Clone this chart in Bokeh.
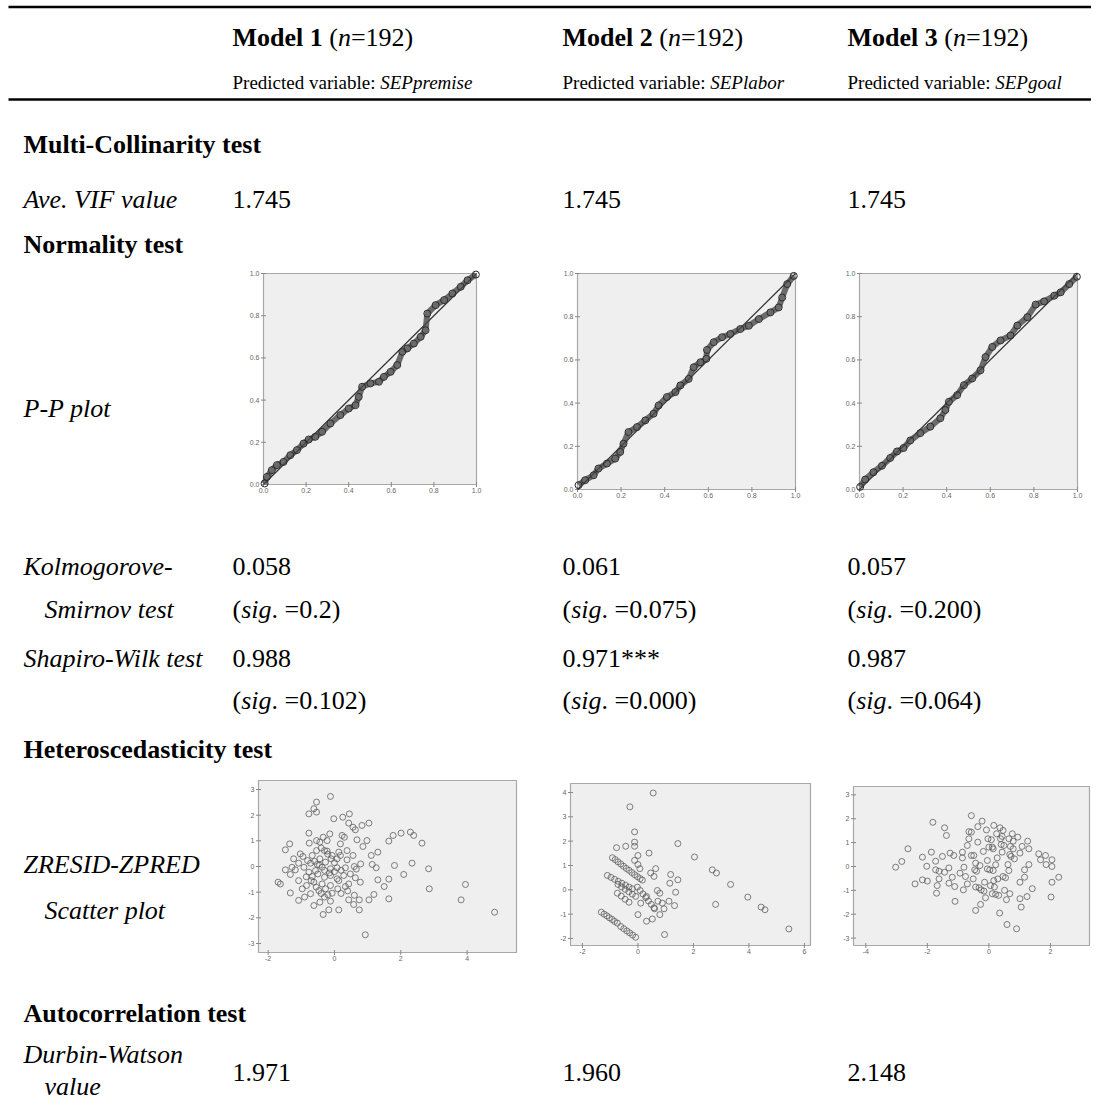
from bokeh.plotting import figure
from bokeh.models import Range1d
from bokeh.embed import file_html
from bokeh.resources import INLINE
from bokeh.core.properties import value
import math

# ---------------- data ----------------
models = ["Model 1", "Model 2", "Model 3"]
n_obs = [192, 192, 192]
predicted = ["SEPpremise", "SEPlabor", "SEPgoal"]
vif_values = ["1.745", "1.745", "1.745"]
ks_stat = ["0.058", "0.061", "0.057"]
ks_sig = ["0.2", "0.075", "0.200"]
sw_stat = ["0.988", "0.971***", "0.987"]
sw_sig = ["0.102", "0.000", "0.064"]
dw_values = ["1.971", "1.960", "2.148"]

pp_ticks = [0.0, 0.2, 0.4, 0.6, 0.8, 1.0]

pp1_x = [0.005, 0.016, 0.039, 0.063, 0.094, 0.126, 0.157, 0.188, 0.212, 0.243, 0.275, 0.314, 0.361, 0.400,
         0.432, 0.447, 0.463, 0.502, 0.542, 0.565, 0.597, 0.628, 0.652, 0.675, 0.706, 0.738, 0.761, 0.769,
         0.808, 0.848, 0.887, 0.926, 0.958, 0.997]
pp1_y = [0.005, 0.036, 0.068, 0.092, 0.107, 0.139, 0.163, 0.194, 0.213, 0.226, 0.250, 0.289, 0.329, 0.360,
         0.376, 0.415, 0.463, 0.479, 0.487, 0.510, 0.534, 0.566, 0.629, 0.645, 0.668, 0.700, 0.731, 0.810,
         0.850, 0.874, 0.905, 0.937, 0.968, 0.995]

pp2_x = [0.005, 0.035, 0.074, 0.096, 0.135, 0.173, 0.196, 0.211, 0.234, 0.273, 0.311, 0.349, 0.372, 0.410,
         0.449, 0.472, 0.510, 0.533, 0.564, 0.591, 0.594, 0.625, 0.663, 0.701, 0.747, 0.786, 0.832, 0.885,
         0.923, 0.939, 0.962, 0.992]
pp2_y = [0.020, 0.043, 0.066, 0.097, 0.120, 0.143, 0.174, 0.212, 0.266, 0.289, 0.320, 0.351, 0.389, 0.428,
         0.451, 0.482, 0.512, 0.566, 0.589, 0.605, 0.646, 0.682, 0.705, 0.720, 0.743, 0.758, 0.789, 0.820,
         0.843, 0.889, 0.951, 0.989]

pp3_x = [0.003, 0.026, 0.064, 0.103, 0.141, 0.172, 0.202, 0.233, 0.279, 0.325, 0.371, 0.394, 0.410, 0.448,
         0.479, 0.517, 0.555, 0.578, 0.609, 0.647, 0.693, 0.724, 0.770, 0.808, 0.847, 0.893, 0.923, 0.962,
         0.997]
pp3_y = [0.012, 0.046, 0.080, 0.110, 0.146, 0.176, 0.192, 0.227, 0.261, 0.291, 0.330, 0.368, 0.406, 0.437,
         0.483, 0.514, 0.552, 0.613, 0.660, 0.690, 0.713, 0.759, 0.798, 0.856, 0.871, 0.897, 0.913, 0.951,
         0.985]

# ZRESID (y) vs ZPRED (x)
s1_x = [-0.12, -0.54, -0.62, -0.54, -0.77, -0.02, 0.25, 0.45, 0.43, 0.56, 0.63, 0.83, 1.04,
        -0.77, -0.34, -0.14, 0.23, 0.30, -0.22, -0.54, -0.76, -0.44, 0.18, 0.68, 0.98, 0.86, 1.64, 1.77, 2.01, 2.29, 2.39, 2.64,
        -1.48, -1.35, -0.54, -0.67, -0.22, 0.13, 0.38, 0.56, 0.18, -0.07, -0.44, -0.27, -1.03, -0.95, -1.23, -1.08, -0.81, -0.72,
        -0.52, 0.08, 0.38, 1.11, 1.31, 0.79, 1.14,
        -1.48, -1.28, -1.18, -0.92, -1.33, -0.57, -0.37, -0.12, 0.08, 0.33, 0.60, 0.66, 1.26, 1.81, 2.34, 2.84,
        -0.77, -0.67, -0.50, -0.30, -0.12, 0.08, 0.28, 0.48, 0.63, 0.78, 1.31, 1.64, 2.09, -1.08, -0.84, -0.62, -0.37, -0.12, 0.13, 0.43,
        -1.70, -1.63, -1.33, -0.97, -0.72, -0.47, -0.27, -0.07, 0.10, 0.33, 0.60, 1.19, 1.50, 2.86, 3.95,
        -1.08, -0.90, -0.62, -0.44, -0.30, -0.12, 0.43, 0.58, 0.75, 1.04, 1.64, -0.34, -0.17, 0.13, 0.75, 3.82, 4.83, 0.93,
        -0.40, -0.30, -0.20, -0.10, 0.00, -0.60, -0.45, -0.30, -0.15, 0.00, 0.20, -0.85, -0.70, -0.55, -0.40, -0.20, 0.20, 0.40]
s1_y = [2.73, 2.51, 2.25, 2.12, 2.05, 1.86, 1.92, 2.05, 1.69, 1.53, 1.43, 1.60, 1.69,
        1.30, 1.14, 1.27, 1.21, 1.14, 1.01, 1.01, 0.91, 0.95, 0.88, 1.04, 1.01, 0.78, 0.99, 1.21, 1.30, 1.34, 1.21, 0.91,
        0.65, 0.88, 0.62, 0.43, 0.60, 0.56, 0.62, 0.43, 0.43, 0.43, 0.30, 0.17, 0.49, 0.39, 0.30, 0.13, 0.23, 0.13,
        0.08, 0.30, 0.26, 0.43, 0.56, 0.10, 0.08,
        -0.13, -0.03, -0.13, -0.03, -0.31, -0.16, -0.03, -0.09, -0.05, -0.05, 0.00, -0.10, -0.05, 0.04, 0.13, -0.09,
        -0.22, -0.39, -0.29, -0.42, -0.35, -0.48, -0.35, -0.29, -0.44, -0.61, -0.52, -0.49, -0.31, -0.55, -0.74, -0.61, -0.68, -0.74, -0.55, -0.68,
        -0.61, -0.68, -1.03, -0.87, -1.06, -0.94, -0.87, -1.04, -0.87, -0.78, -1.12, -1.09, -0.78, -0.87, -0.70,
        -1.32, -1.19, -1.52, -1.39, -1.19, -1.35, -1.30, -1.48, -1.30, -1.30, -1.26, -1.87, -1.69, -1.69, -1.69, -1.30, -1.78, -2.66,
        0.72, 0.62, 0.48, 0.30, 0.15, 0.20, 0.05, -0.15, -0.25, -0.20, -0.15, -0.40, -0.55, -0.80, -1.05, -1.10, -1.05, -0.95]

s2_x = [0.55, -0.29, -0.12, -0.12, -0.12, -0.44, -0.77, 1.44, 0.40, 0.00, -0.12, 0.00, 0.07, 0.64, 0.46, 0.58, 1.18, 1.44,
        1.15, 2.04, 2.68, 2.83, 3.34, 3.96, 4.44, 4.58, 5.44, 2.80,
        0.70, 0.79, 0.31, 0.72, 0.88, 1.12, 1.36, 1.32, 0.94, 0.60, 0.79, 0.00, 0.31, 0.52, 0.96, 0.10,
        -0.92, -0.82, -0.72, -0.62, -0.52, -0.42, -0.32, -0.22, -0.12, -0.02, 0.08, 0.16,
        -1.10, -0.97, -0.84, -0.71, -0.58, -0.45, -0.32, -0.20,
        -0.72, -0.59, -0.46, -0.33, -0.20, -0.08,
        -0.74, -0.60, -0.46, -0.32,
        -0.02, 0.08, 0.18, 0.28, 0.38, 0.48, 0.58,
        -1.32, -1.22, -1.12, -1.03, -0.93, -0.84, -0.74,
        -0.62, -0.51, -0.40, -0.30, -0.19, -0.08]
s2_y = [3.98, 3.41, 2.38, 1.96, 1.79, 1.79, 1.73, 1.90, 1.51, 1.41, 1.21, 1.04, 0.87, 0.87, 0.69, 0.55, 0.63, 0.41,
        0.27, 1.35, 0.82, 0.69, 0.22, -0.30, -0.71, -0.82, -1.61, -0.60,
        -0.03, -0.14, -0.27, -0.47, -0.55, -0.47, -0.10, -0.65, -0.78, -0.78, -1.02, -1.02, -1.29, -1.20, -1.84, -0.55,
        1.32, 1.24, 1.15, 1.06, 0.97, 0.88, 0.80, 0.71, 0.62, 0.54, 0.46, 0.40,
        0.59, 0.51, 0.43, 0.35, 0.27, 0.19, 0.11, 0.04,
        0.22, 0.12, 0.02, -0.08, -0.18, -0.27,
        -0.14, -0.26, -0.39, -0.51,
        0.11, -0.03, -0.17, -0.32, -0.46, -0.60, -0.74,
        -0.92, -1.00, -1.07, -1.15, -1.22, -1.30, -1.37,
        -1.51, -1.60, -1.69, -1.77, -1.86, -1.95]

s3_x = [-3.03, -2.83, -2.63, -2.40, -2.16, -2.16, -2.02, -2.00, -1.87, -1.82, -1.73, -1.73, -1.68, -1.70, -1.62, -1.62,
        -1.51, -1.44, -1.38, -1.44, -1.30, -1.30, -1.26, -1.19, -1.14, -1.11, -1.10, -0.94, -0.86, -0.86, -0.83, -0.81,
        -0.76, -0.70, -0.70, -0.65, -0.65, -0.57, -0.57, -0.57, -0.51, -0.49, -0.46, -0.43, -0.43, -0.36, -0.36, -0.40,
        -0.43, -0.32, -0.29, -0.27, -0.25, -0.22, -0.18, -0.16, -0.14, -0.11, -0.08, -0.05, -0.05, -0.03, 0.00, 0.03,
        0.05, 0.08, 0.11, 0.11, 0.14, 0.14, 0.16, 0.18, 0.22, 0.16, 0.22, 0.25, 0.27, 0.29, 0.32, 0.35, 0.36, 0.38,
        0.40, 0.43, 0.43, 0.46, 0.46, 0.49, 0.51, 0.54, 0.57, 0.59, 0.62, 0.65, 0.65, 0.68, 0.68, 0.72, 0.70, 0.76,
        0.79, 0.79, 0.83, 0.90, 0.94, 1.01, 1.01, 1.01, 1.05, 1.08, 1.16, 1.16, 1.24, 1.26, 1.30, 1.30, 1.41, 1.62,
        1.68, 1.84, 1.86, 2.05, 2.05, 2.05, 2.02, 2.27]
s3_y = [-0.03, 0.21, 0.74, -0.73, 0.39, -0.56, 0.01, -0.61, 0.60, 1.85, 0.22, -0.14, -0.80, -1.12, -0.20, -0.52,
        0.42, 1.62, 1.30, -0.24, -0.06, -0.70, 0.56, -0.45, 0.46, -0.84, -1.46, -0.28, 0.36, 0.60, -0.98, -0.03,
        -0.42, 0.88, -0.73, 1.16, 1.46, 1.44, 0.46, 2.13, -0.52, 0.46, -0.14, -1.84, -0.86, 1.67, 1.02, -0.20,
        0.14, -0.89, 0.04, -1.59, -0.98, 1.90, 0.63, -1.03, -0.66, -1.31, 1.53, -0.10, 0.25, 1.16, 0.81, -0.14,
        -0.80, 1.12, 0.81, -1.14, -0.17, 0.74, -0.59, -0.86, -1.17, 1.72, 0.07, 1.37, 0.36, -0.52, -1.21, -1.95, 1.62, 1.16,
        0.92, 1.26, 0.60, 1.51, -0.42, 0.88, -1.00, -0.47, -1.39, -2.43, 0.08, 1.16, -0.17, -1.14, 0.50, 0.42, 0.84, 1.37,
        1.06, 0.74, 0.32, -2.61, 1.23, 0.56, -0.66, -1.35, -1.70, 0.84, -0.14, -0.45, -1.26, 1.06, 0.74, 0.08, -0.93, 0.53,
        0.28, 0.46, 0.08, 0.28, 0.00, -0.66, -1.28, -0.45]

s1_xticks = [-2, 0, 2, 4]
s1_yticks = [-3, -2, -1, 0, 1, 2, 3]
s2_xticks = [-2, 0, 2, 4, 6]
s2_yticks = [-2, -1, 0, 1, 2, 3, 4]
s3_xticks = [-4, -2, 0, 2]
s3_yticks = [-3, -2, -1, 0, 1, 2, 3]

# ---------------- figure ----------------
W, H = 1091, 1103
OX, OY = 0, 0
FONT = "Liberation Serif"
SANS = "Liberation Sans"

p = figure(width=W, height=H, output_backend="svg", toolbar_location=None,
           x_range=Range1d(OX, OX + W), y_range=Range1d(OY + H, OY),
           x_axis_location=None, y_axis_location=None, min_border=0)
p.grid.visible = False
p.outline_line_color = None
p.background_fill_color = "white"
p.border_fill_color = "white"

REG = {'(': 333, ')': 333, '=': 564, '.': 250, ' ': 250, '*': 500, 'P': 556, 'r': 333, 'e': 444, 'd': 500,
       'i': 278, 'c': 444, 't': 278, 'v': 500, 'a': 444, 'b': 500, 'l': 278, ':': 278}
ITA = {'n': 500, 's': 389, 'i': 278, 'g': 500, '.': 250}
BLD = {'M': 944, 'o': 500, 'd': 556, 'e': 444, 'l': 278, ' ': 250}


def tw(s, style, size):
    tab = {"normal": REG, "italic": ITA, "bold": BLD}[style]
    return sum(tab.get(c, 500) for c in s) / 1000.0 * size


def txt(x, y, s, size=26, style="normal", align="left", font=FONT, color="black", baseline="alphabetic"):
    p.text(x=[x], y=[y], text=[s], text_font=value(font), text_font_size=f"{size}px",
           text_font_style=style, text_align=align, text_baseline=baseline, text_color=color)


def segs(x, y, parts, size=26):
    for s, st in parts:
        txt(x, y, s, size=size, style=st)
        x += tw(s, st, size)


# rules
p.segment(x0=[8, 8], x1=[OX + W, OX + W], y0=[6.5, 99], y1=[6.5, 99], line_color="black", line_width=2.5)

col_x = [232, 562, 847]
for i, cx in enumerate(col_x):
    segs(cx, 37, [(models[i] + " ", "bold"), ("(", "normal"), ("n", "italic"), ("=%d)" % n_obs[i], "normal")])
    segs(cx, 82, [("Predicted variable: ", "normal"), (predicted[i], "italic")], size=19)
    txt(cx, 199, vif_values[i])
    txt(cx, 566, ks_stat[i])
    segs(cx, 609, [("(", "normal"), ("sig", "italic"), (". =" + ks_sig[i] + ")", "normal")])
    txt(cx, 658, sw_stat[i])
    segs(cx, 700, [("(", "normal"), ("sig", "italic"), (". =" + sw_sig[i] + ")", "normal")])
    txt(cx, 1072, dw_values[i])

LX, LX2 = 23, 44
txt(LX, 144, "Multi-Collinarity test", style="bold")
txt(LX, 199, "Ave. VIF value", style="italic")
txt(LX, 244, "Normality test", style="bold")
txt(LX, 408, "P-P plot", style="italic")
txt(LX, 566, "Kolmogorove-", style="italic")
txt(LX2, 609, "Smirnov test", style="italic")
txt(LX, 658, "Shapiro-Wilk test", style="italic")
txt(LX, 749, "Heteroscedasticity test", style="bold")
txt(LX, 864, "ZRESID-ZPRED", style="italic")
txt(LX2, 910, "Scatter plot", style="italic")
txt(LX, 1013, "Autocorrelation test", style="bold")
txt(LX, 1054, "Durbin-Watson", style="italic")
txt(LX2, 1086, "value", style="italic")


# ---------------- embedded sub plots via extra ranges ----------------
def panel(name, L, R, T, B, x0, x1, y0, y1):
    kx = (x1 - x0) / (R - L)
    ky = (y1 - y0) / (B - T)
    p.extra_x_ranges[name] = Range1d(x0 - (L - OX) * kx, x0 + (OX + W - L) * kx)
    p.extra_y_ranges[name] = Range1d(y0 - (OY + H - B) * ky, y1 + (T - OY) * ky)
    kw = dict(x_range_name=name, y_range_name=name)
    p.quad(left=[x0], right=[x1], bottom=[y0], top=[y1], fill_color="#efefef",
           line_color="#a8a8a8", line_width=1.2, **kw)
    return kw


def ticks(kw, x0, y0, xt, yt, fmt):
    xs = [fmt(v) for v in xt]
    ys = [fmt(v) for v in yt]
    p.scatter(x=[x0] * len(yt), y=yt, marker="dash", size=5, line_color="#888888", **kw)
    p.scatter(x=xt, y=[y0] * len(xt), marker="dash", angle=math.pi / 2, size=5, line_color="#888888", **kw)
    p.text(x=[x0] * len(yt), y=yt, text=ys, text_font=value(SANS), text_font_size="7px",
           text_align="right", text_baseline="middle", x_offset=-4, text_color="#666666", **kw)
    p.text(x=xt, y=[y0] * len(xt), text=xs, text_font=value(SANS), text_font_size="7px",
           text_align="center", text_baseline="top", y_offset=3, text_color="#666666", **kw)


pp_boxes = [(263, 476, 273, 484), (577, 795, 273, 489), (859, 1077, 273, 489)]
pp_data = [(pp1_x, pp1_y), (pp2_x, pp2_y), (pp3_x, pp3_y)]
for k, (box, (xs, ys)) in enumerate(zip(pp_boxes, pp_data)):
    kw = panel("pp%d" % k, *box, 0.0, 1.0, 0.0, 1.0)
    ticks(kw, 0.0, 0.0, pp_ticks, pp_ticks, lambda v: "%.1f" % v)
    p.line(x=[0.0, 1.0], y=[0.0, 1.0], line_color="#333333", line_width=1.2, **kw)
    p.line(x=xs, y=ys, line_color="#4a4a4a", line_width=6, line_alpha=0.8, **kw)
    p.scatter(x=xs, y=ys, marker="circle", size=7, fill_color=None, line_color="#2a2a2a",
              line_width=1.0, **kw)

sc_boxes = [(258, 516, 780, 952, -2.29, 5.49, -3.35, 3.35),
            (570, 810, 783, 945, -2.43, 6.22, -2.29, 4.37),
            (853, 1089, 786, 945, -4.40, 3.27, -3.31, 3.35)]
sc_data = [(s1_x, s1_y, s1_xticks, s1_yticks), (s2_x, s2_y, s2_xticks, s2_yticks),
           (s3_x, s3_y, s3_xticks, s3_yticks)]
for k, (box, (xs, ys, xt, yt)) in enumerate(zip(sc_boxes, sc_data)):
    L, R, T, B, x0, x1, y0, y1 = box
    kw = panel("sc%d" % k, L, R, T, B, x0, x1, y0, y1)
    ticks(kw, x0, y0, xt, yt, lambda v: "%d" % v)
    p.scatter(x=xs, y=ys, marker="circle", size=6, fill_color=None, line_color="#555555",
              line_alpha=0.75, line_width=1.0, **kw)

open("out.html", "w").write(file_html(p, INLINE))
